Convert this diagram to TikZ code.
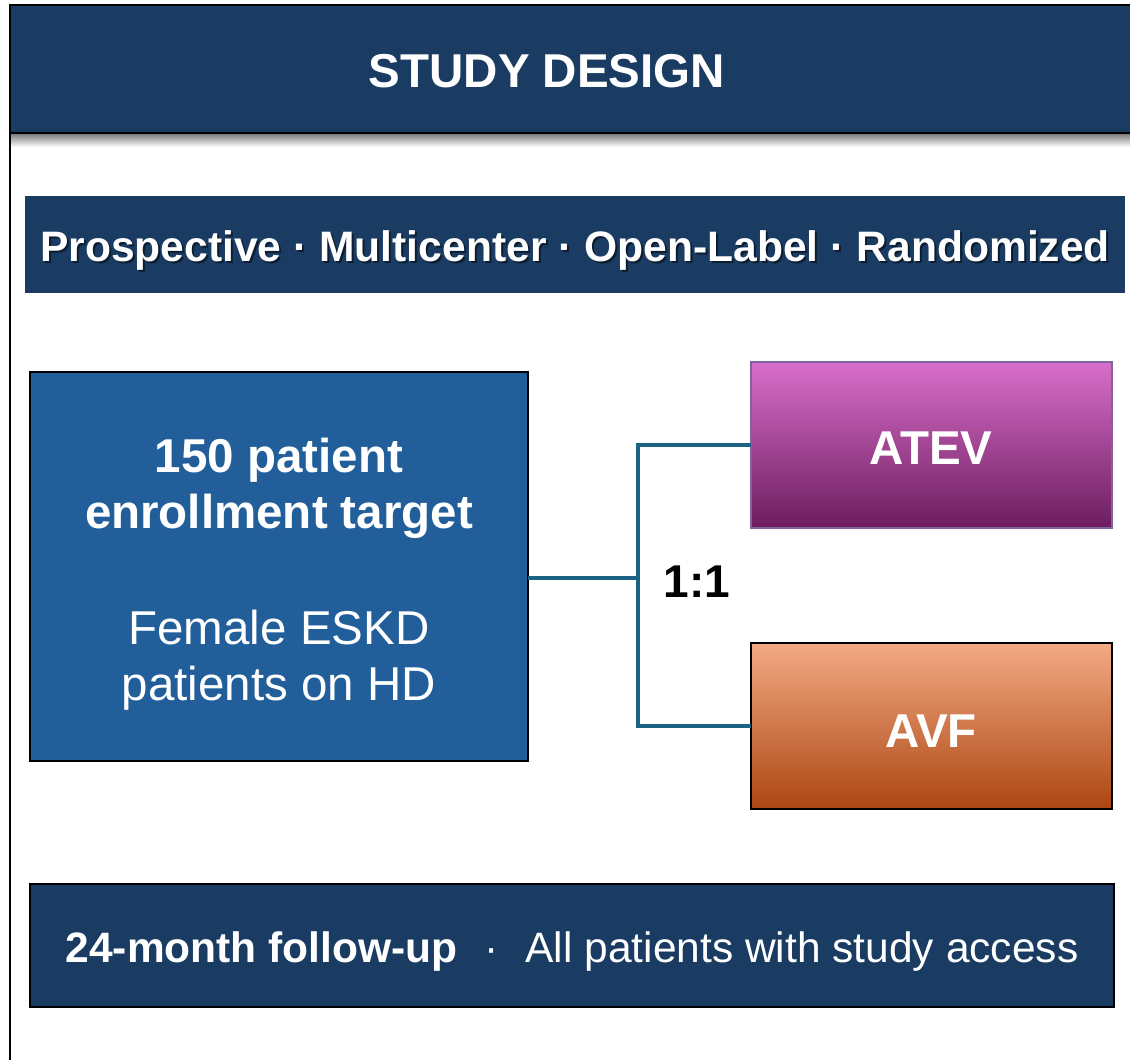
\documentclass[tikz,border=0pt]{standalone}
\usepackage{fontspec}
\setmainfont{Liberation Sans}
\definecolor{navy}{RGB}{26,60,99}
\definecolor{midblue}{RGB}{34,95,154}
\definecolor{linkteal}{RGB}{27,98,132}
\definecolor{atevtop}{RGB}{216,110,202}
\definecolor{atevmid}{RGB}{165,42,145}
\definecolor{atevbot}{RGB}{108,29,94}
\definecolor{atevedge}{RGB}{128,100,162}
\definecolor{avftop}{RGB}{243,170,132}
\definecolor{avfmid}{RGB}{234,112,52}
\definecolor{avfbot}{RGB}{172,70,18}
\tikzset{
  box/.style={rectangle, inner sep=0pt, outer sep=0pt},
  bigtxt/.style={text=white, inner sep=0pt, anchor=base, font=\fontsize{47.5}{56}\selectfont},
  boldbig/.style={bigtxt, font=\bfseries\fontsize{47.5}{56}\selectfont},
  link/.style={draw=linkteal, line width=3.2pt},
}
\begin{document}
\begin{tikzpicture}[x=1pt,y=-1pt]
\useasboundingbox (0,0) rectangle (1130,1060);
\fill[white] (0,0) rectangle (1130,1060);
% shadow under header
\shade[top color=black!55, bottom color=white] (10,133) rectangle (1135,147);
% frame left line
\draw[black, line width=2.5pt] (10,5) -- (10,1065);
% header bar
\node[box, fill=navy, draw=black, line width=2.5pt, minimum width=1125, minimum height=128, anchor=north west] (hdr) at (10,5) {};
\node[boldbig] (title) at (547,87) {STUDY DESIGN};
% subtitle bar
\node[box, fill=navy, minimum width=1100, minimum height=97, anchor=north west] (sub) at (25,196) {};
\node[text=black, opacity=0.5, inner sep=0pt, anchor=base, font=\bfseries\fontsize{42.6}{50}\selectfont] (subsh) at (577,263) {Prospective · Multicenter · Open-Label · Randomized};
\node[text=white, inner sep=0pt, anchor=base, font=\bfseries\fontsize{42.6}{50}\selectfont] (subtxt) at (575,261) {Prospective · Multicenter · Open-Label · Randomized};
% enrollment box
\node[box, fill=midblue, draw=black, line width=2pt, minimum width=498, minimum height=389, anchor=north west] (enr) at (30,372) {};
\node[boldbig] (enr1) at (279,472) {150 patient};
\node[boldbig] (enr2) at (279,528) {enrollment target};
\node[bigtxt] (enr3) at (279,644) {Female ESKD};
\node[bigtxt] (enr4) at (279,700) {patients on HD};
% arms
\node[box, top color=atevtop, middle color=atevmid, bottom color=atevbot, draw=atevedge, line width=1.5pt, minimum width=361, minimum height=166, anchor=north west] (atev) at (751,362) {};
\node[boldbig] (atevtxt) at (931,464) {ATEV};
\node[box, top color=avftop, middle color=avfmid, bottom color=avfbot, draw=black, line width=2pt, minimum width=361, minimum height=166, anchor=north west] (avf) at (751,643) {};
\node[boldbig] (avftxt) at (931,747) {AVF};
% connectors
\coordinate (split) at (638,578);
\draw[link] (enr.east |- split) -- (split);
\draw[link] (atev.west) -| (split) |- (avf.west);
\node[inner sep=0pt, anchor=base, text=black, font=\bfseries\fontsize{46}{55}\selectfont] (ratio) at (697,597) {1:1};
% follow-up box
\node[box, fill=navy, draw=black, line width=2pt, minimum width=1084, minimum height=123, anchor=north west] (fu) at (30,884) {};
\node[text=white, inner sep=0pt, anchor=base, font=\fontsize{42.5}{50}\selectfont] (futxt) at (572,962) {\textbf{24-month follow-up}\hspace{27pt}·\hspace{27pt}All patients with study access};
\end{tikzpicture}
\end{document}
